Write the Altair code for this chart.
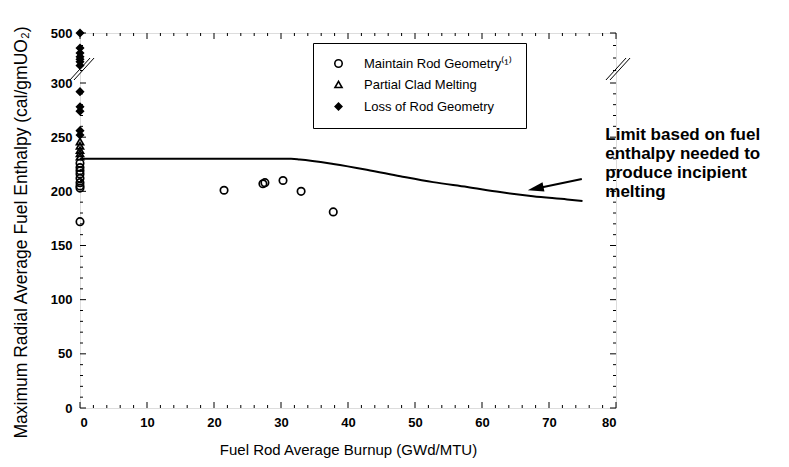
import altair as alt
import pandas as pd

W, H = 536, 375
FONT = "Liberation Sans"

# ---- data ----
categories = ["Maintain Rod Geometry⁽¹⁾", "Partial Clad Melting", "Loss of Rod Geometry"]

maintain_burnup = [0, 0, 0, 0, 0, 0, 0, 0, 0, 21.5, 27.3, 27.6, 30.3, 33.0, 37.8]
maintain_enthalpy = [226, 222, 219, 216, 212, 208, 205, 203, 172, 201, 207, 208, 210, 200, 181]

partial_burnup = [0, 0, 0, 0, 0]
partial_enthalpy = [246, 242, 238, 235, 232]

loss_burnup = [0, 0, 0, 0, 0, 0, 0, 0, 0, 0, 0, 0]
loss_enthalpy = [500, 440, 420, 405, 395, 385, 370, 292, 278, 274, 256, 252]

limit_burnup = [0, 10, 20, 30, 31.5, 32.8, 37.8, 42.8, 47.8, 52.7, 57.8, 62.7, 67.6, 72.7, 75]
limit_enthalpy = [230, 230, 230, 230, 230, 229.4, 225.3, 220, 214, 208.5, 204, 199.3, 195.5, 192.5, 191]

x_major = [0, 10, 20, 30, 40, 50, 60, 70, 80]
x_minor = [2, 4, 6, 8, 12, 14, 16, 18, 22, 24, 26, 28, 32, 34, 36, 38, 42, 44, 46, 48,
           52, 54, 56, 58, 62, 64, 66, 68, 72, 74, 76, 78]
y_major = [0, 50, 100, 150, 200, 250, 300, 500]
y_minor = [10, 20, 30, 40, 60, 70, 80, 90, 110, 120, 130, 140, 160, 170, 180, 190,
           210, 220, 230, 240, 260, 270, 280, 290, 350, 400, 450]

annotation_lines = ["Limit based on fuel", "enthalpy needed to", "produce incipient", "melting"]

# axis-break slashes (burnup, enthalpy)
break_x1 = [-1.5, -0.9, 78.5, 79.1]
break_x2 = [1.5, 2.1, 81.5, 82.1]
break_y1 = [312, 312, 312, 312]
break_y2 = [400, 400, 400, 400]

# arrow (tail -> head)
arrow_burnup = [74.9, 68.1]
arrow_enthalpy = [211.4, 202.7]

# ---- tables ----
pts = pd.concat([
    pd.DataFrame({"burnup": maintain_burnup, "enthalpy": maintain_enthalpy, "cat": categories[0]}),
    pd.DataFrame({"burnup": partial_burnup, "enthalpy": partial_enthalpy, "cat": categories[1]}),
    pd.DataFrame({"burnup": loss_burnup, "enthalpy": loss_enthalpy, "cat": categories[2]}),
])
limit_df = pd.DataFrame({"burnup": limit_burnup, "enthalpy": limit_enthalpy})
brk_df = pd.DataFrame({"x1": break_x1, "x2": break_x2, "y1": break_y1, "y2": break_y2})
arrow_df = pd.DataFrame({"burnup": arrow_burnup, "enthalpy": arrow_enthalpy})
head_df = arrow_df.iloc[[1]]

xs = alt.Scale(domain=[0, 80], nice=False, zero=False)
ys = alt.Scale(domain=[0, 300, 500], range=[H, 50, 0], nice=False, zero=False)

xaxis = alt.Axis(values=x_major, format="d", ticks=False, domain=False, grid=False,
                 labelFont=FONT, labelFontSize=13, labelFontWeight="bold", labelColor="black",
                 labelPadding=8, title="Fuel Rod Average Burnup (GWd/MTU)",
                 titleFont=FONT, titleFontSize=15, titleFontWeight="normal", titleColor="black",
                 titlePadding=13)
yaxis = alt.Axis(values=y_major, format="d", ticks=False, domain=False, grid=False,
                 labelFont=FONT, labelFontSize=13, labelFontWeight="bold", labelColor="black",
                 labelPadding=8, title="Maximum Radial Average Fuel Enthalpy (cal/gmUO₂)",
                 titleFont=FONT, titleFontSize=17.5, titleFontWeight="normal", titleColor="black",
                 titlePadding=20, titleY=199)


def X(field):
    return alt.X(field, type="quantitative", scale=xs, axis=xaxis)


def Y(field):
    return alt.Y(field, type="quantitative", scale=ys, axis=yaxis)


limit = alt.Chart(limit_df).mark_line(color="black", strokeWidth=2, interpolate="monotone").encode(
    x=X("burnup"), y=Y("enthalpy"))

leg = alt.Legend(orient="none", legendX=233, legendY=10, title=None, strokeColor="black",
                 fillColor="white", padding=14, symbolOffset=5, labelOffset=19,
                 labelFont=FONT, labelFontSize=13, labelColor="black",
                 symbolStrokeWidth=1.6, rowPadding=7, labelLimit=400)

points = alt.Chart(pts).mark_point(strokeWidth=1.7, opacity=1, fillOpacity=1).encode(
    x=X("burnup"), y=Y("enthalpy"),
    shape=alt.Shape("cat:N", scale=alt.Scale(domain=categories,
                                             range=["circle", "triangle-up", "diamond"]), legend=leg),
    fill=alt.Fill("cat:N", scale=alt.Scale(domain=categories,
                                           range=["transparent", "transparent", "black"]), legend=leg),
    stroke=alt.Stroke("cat:N", scale=alt.Scale(domain=categories,
                                               range=["black", "black", "black"]), legend=leg),
    size=alt.Size("cat:N", scale=alt.Scale(domain=categories, range=[55, 45, 75]), legend=leg),
)

xmaj_df = pd.DataFrame({"v": x_major})
xmin_df = pd.DataFrame({"v": x_minor})
ymaj_df = pd.DataFrame({"v": y_major})
ymin_df = pd.DataFrame({"v": y_minor})

MAJ, MIN = 6, 3
tick_layers = []
for df, ln in ((xmaj_df, MAJ), (xmin_df, MIN)):
    tick_layers.append(alt.Chart(df).mark_rule(color="black", strokeWidth=1).encode(
        x=X("v"), y=alt.value(H), y2=alt.value(H - ln)))
    tick_layers.append(alt.Chart(df).mark_rule(color="black", strokeWidth=1).encode(
        x=X("v"), y=alt.value(0), y2=alt.value(ln)))
for df, ln in ((ymaj_df, MAJ), (ymin_df, MIN)):
    tick_layers.append(alt.Chart(df).mark_rule(color="black", strokeWidth=1).encode(
        y=Y("v"), x=alt.value(0), x2=alt.value(ln)))
    tick_layers.append(alt.Chart(df).mark_rule(color="black", strokeWidth=1).encode(
        y=Y("v"), x=alt.value(W - ln), x2=alt.value(W)))

breaks = alt.Chart(brk_df).mark_rule(color="black", strokeWidth=1).encode(
    x=X("x1"), x2="x2", y=Y("y1"), y2="y2")

shaft = alt.Chart(arrow_df).mark_line(color="black", strokeWidth=2).encode(
    x=X("burnup"), y=Y("enthalpy"))
head = alt.Chart(head_df).mark_point(shape="M -1 0 L 0.85 -0.55 L 0.85 0.55 Z", filled=True,
                                     color="black", opacity=1, size=300, angle=348.5).encode(
    x=X("burnup"), y=Y("enthalpy"))

note = alt.Chart(pd.DataFrame({"a": [0]})).mark_text(
    text=annotation_lines, align="left", baseline="middle", font=FONT, fontSize=17,
    fontWeight="bold", color="black", lineHeight=19).encode(
    x=alt.datum(78.4, type="quantitative", scale=xs, axis=xaxis),
    y=alt.datum(252, type="quantitative", scale=ys, axis=yaxis))

chart = alt.layer(limit, *tick_layers, breaks, shaft, head, note, points).properties(
    width=W, height=H,
    autosize=alt.AutoSizeParams(type="none"),
    padding={"left": 80, "top": 33, "right": 789 - 80 - W, "bottom": 467 - 33 - H},
    background="white",
).configure_view(stroke="black", strokeWidth=1).configure(font=FONT)

chart.save("out.html", embed_options={"renderer": "svg", "actions": False})
